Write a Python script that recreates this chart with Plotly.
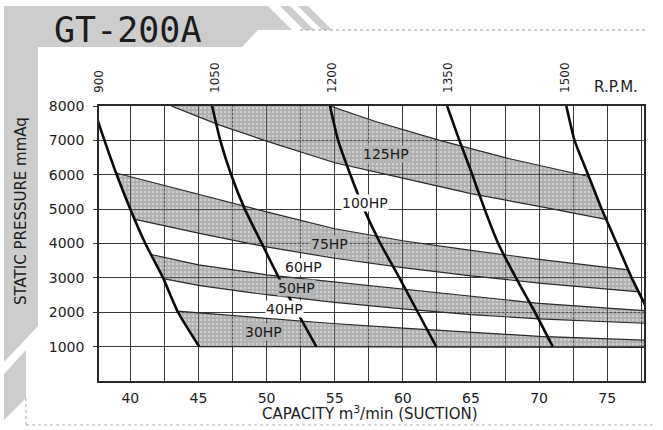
import plotly.graph_objects as go
import numpy as np

# ---------------- data ----------------
pressure_levels = [8000, 7000, 6000, 5000, 4000, 3000, 2000, 1000]

rpm_labels = ["900", "1050", "1200", "1350", "1500"]
rpm_tick_x = [37.7, 46.25, 54.8, 63.3, 71.9]

rpm_900_x = [37.55, 37.8, 39.0, 40.0, 41.1, 42.4, 43.5, 45.05]
rpm_900_y = [7650, 7350, 6000, 5000, 4000, 3000, 2000, 1000]
rpm_1050_x = [46.0, 46.6, 47.4, 48.4, 49.65, 50.9, 52.25, 53.65]
rpm_1050_y = pressure_levels
rpm_1200_x = [54.65, 55.25, 56.15, 57.15, 58.35, 59.75, 61.1, 62.45]
rpm_1200_y = pressure_levels
rpm_1350_x = [63.25, 64.15, 65.1, 66.0, 67.0, 68.3, 69.7, 71.0]
rpm_1350_y = pressure_levels
rpm_1500_x = [72.0, 72.6, 73.6, 74.6, 75.7, 76.8, 78.05]
rpm_1500_y = [8000, 7000, 6000, 5000, 4000, 3000, 2000]

# HP bands: upper and lower edges
band_a_up_x = [54.65, 58.0, 62.7, 68.0, 73.65]
band_a_up_y = [8000, 7550, 7000, 6450, 5950]
band_a_lo_x = [43.0, 46.5, 50.0, 55.0, 60.0, 65.0, 70.0, 74.9]
band_a_lo_y = [8000, 7450, 6980, 6350, 5900, 5450, 5080, 4700]

band_b_up_x = [38.95, 45.0, 50.0, 55.0, 60.0, 65.0, 70.0, 76.55]
band_b_up_y = [6050, 5420, 4920, 4430, 4080, 3800, 3540, 3230]
band_b_lo_x = [40.35, 45.0, 50.0, 55.0, 60.0, 65.0, 70.0, 77.35]
band_b_lo_y = [4700, 4300, 3900, 3570, 3300, 3060, 2850, 2590]

band_c_up_x = [41.52, 45.0, 50.0, 54.6, 60.0, 65.0, 70.0, 78.0]
band_c_up_y = [3680, 3380, 3090, 2900, 2660, 2450, 2260, 2040]
band_c_lo_x = [42.42, 45.0, 50.0, 55.0, 60.0, 65.0, 70.0, 78.0]
band_c_lo_y = [2980, 2780, 2510, 2290, 2100, 1930, 1810, 1675]

band_d_up_x = [43.45, 45.0, 50.0, 54.6, 60.0, 65.0, 70.0, 78.0]
band_d_up_y = [2030, 1980, 1820, 1680, 1540, 1410, 1300, 1185]
band_d_lo_x = [45.05, 78.0]
band_d_lo_y = [1000, 975]

hp_labels = ["125HP", "100HP", "75HP", "60HP", "50HP", "40HP", "30HP"]
hp_label_x = [58.8, 57.2, 54.65, 52.7, 52.2, 51.35, 49.75]
hp_label_y = [6600, 5170, 3985, 3325, 2720, 2100, 1435]
hp_label_on_band = [True, False, True, False, True, False, True]

x_ticks = [40, 45, 50, 55, 60, 65, 70, 75]
y_ticks = [1000, 2000, 3000, 4000, 5000, 6000, 7000, 8000]

# ---------------- helpers ----------------
X_RANGE = [37.7, 77.7]
Y_RANGE = [0, 8000]
ML, MR, MT, MB = 99, 19, 106, 49
W, H = 663, 430
PW, PH = W - ML - MR, H - MT - MB


def px(x):
    return (x - ML) / PW


def py(y):
    return (H - MB - y) / PH


def seg(cx, cy, y_hi, y_lo):
    """curve vertices strictly between y_hi and y_lo (descending)"""
    return [(a, b) for a, b in zip(cx, cy) if y_lo < b < y_hi]


def band_polygon(ux, uy, lx, ly, right=None):
    pts = list(zip(ux, uy))
    if right is not None:
        pts += seg(right[0], right[1], uy[-1], ly[-1])
    pts += list(zip(lx, ly))[::-1]
    pts += seg(rpm_900_x, rpm_900_y, uy[0], ly[0])[::-1]
    pts.append(pts[0])
    xs, ys = zip(*pts)
    return list(xs), list(ys)


GRID = "#3a3a3a"
FONT = "DejaVu Sans"
BAND_BG = "rgba(95,95,95,0.5)"
LABEL_BAND_BG = "#b4b4b4"

fig = go.Figure()

bands = [
    (band_a_up_x, band_a_up_y, band_a_lo_x, band_a_lo_y, (rpm_1500_x, rpm_1500_y)),
    (band_b_up_x, band_b_up_y, band_b_lo_x, band_b_lo_y, (rpm_1500_x, rpm_1500_y)),
    (band_c_up_x, band_c_up_y, band_c_lo_x, band_c_lo_y, None),
    (band_d_up_x, band_d_up_y, band_d_lo_x, band_d_lo_y, None),
]

for ux, uy, lx, ly, right in bands:
    bx, by = band_polygon(ux, uy, lx, ly, right)
    fig.add_trace(go.Scatter(
        x=bx, y=by, mode="lines", line=dict(width=0),
        fill="toself", fillcolor=BAND_BG,
        fillpattern=dict(shape=".", size=4, solidity=0.3,
                         fgcolor="rgba(255,255,255,0.4)",
                         bgcolor=BAND_BG, fillmode="replace"),
        hoverinfo="skip", showlegend=False))

for ux, uy, lx, ly, right in bands:
    for ex, ey in ((ux, uy), (lx, ly)):
        fig.add_trace(go.Scatter(
            x=ex, y=ey, mode="lines", line=dict(color="#2a2a2a", width=1.2),
            hoverinfo="skip", showlegend=False))

for cx, cy in ((rpm_900_x, rpm_900_y), (rpm_1050_x, rpm_1050_y),
               (rpm_1200_x, rpm_1200_y), (rpm_1350_x, rpm_1350_y),
               (rpm_1500_x, rpm_1500_y)):
    fig.add_trace(go.Scatter(
        x=cx, y=cy, mode="lines",
        line=dict(color="#0a0a0a", width=2.6, shape="spline", smoothing=0.5),
        hoverinfo="skip", showlegend=False))

# trace carrying the top (R.P.M.) axis
fig.add_trace(go.Scatter(x=rpm_tick_x, y=[8000] * len(rpm_tick_x), xaxis="x2",
                         mode="lines", line=dict(width=0), hoverinfo="skip",
                         showlegend=False))

for t, lx_, ly_, on_band in zip(hp_labels, hp_label_x, hp_label_y, hp_label_on_band):
    fig.add_annotation(x=lx_, y=ly_, text=t, showarrow=False,
                       xanchor="center", yanchor="middle",
                       font=dict(family=FONT, size=14, color="#1a1a1a"),
                       bgcolor=LABEL_BAND_BG if on_band else "#ffffff", borderpad=0)

# ---------------- decoration ----------------
def path(points):
    p = [f"{px(a):.4f},{py(b):.4f}" for a, b in points]
    return "M " + " L ".join(p) + " Z"


DECO = "#cdcdcd"
shapes = [
    dict(type="path", xref="paper", yref="paper", layer="below",
         path=path([(4, 6), (268, 6), (292, 30), (258, 30), (242, 47), (38, 47),
                    (38, 326), (4, 362)]),
         fillcolor=DECO, line=dict(width=0)),
    dict(type="path", xref="paper", yref="paper", layer="below",
         path=path([(4, 374), (26, 350), (26, 398), (4, 420)]),
         fillcolor=DECO, line=dict(width=0)),
    dict(type="path", xref="paper", yref="paper", layer="below",
         path=path([(280, 6), (290, 6), (314, 30), (304, 30)]),
         fillcolor=DECO, line=dict(width=0)),
    dict(type="path", xref="paper", yref="paper", layer="below",
         path=path([(298, 6), (308, 6), (332, 30), (322, 30)]),
         fillcolor=DECO, line=dict(width=0)),
    dict(type="line", xref="paper", yref="paper", layer="below",
         x0=px(300), y0=py(30), x1=px(648), y1=py(30),
         line=dict(color="#9a9a9a", width=1, dash="dot")),
    dict(type="line", xref="paper", yref="paper", layer="below",
         x0=px(26), y0=py(425), x1=px(655), y1=py(425),
         line=dict(color="#b0b0b0", width=1, dash="dot")),
    dict(type="line", xref="paper", yref="paper", layer="below",
         x0=px(26), y0=py(398), x1=px(26), y1=py(425),
         line=dict(color="#b0b0b0", width=1, dash="dot")),
]

annotations_extra = [
    dict(x=px(128), y=py(30), text="GT-200A",
         font=dict(family="DejaVu Sans Mono", size=35, color="#1c1c1c")),
    dict(x=px(616), y=py(87), text="R.P.M.",
         font=dict(family=FONT, size=15, color="#1c1c1c")),
    dict(x=px(21), y=py(211), text="STATIC PRESSURE mmAq", textangle=-90,
         font=dict(family=FONT, size=15, color="#1c1c1c")),
    dict(x=px(370), y=py(413), text="CAPACITY m<sup>3</sup>/min (SUCTION)",
         font=dict(family=FONT, size=15, color="#1c1c1c")),
]
for a in annotations_extra:
    fig.add_annotation(xref="paper", yref="paper", xanchor="center",
                       yanchor="middle", showarrow=False, **a)

fig.update_layout(
    width=W, height=H, autosize=False,
    margin=dict(l=ML, r=MR, t=MT, b=MB, pad=0),
    paper_bgcolor="white", plot_bgcolor="white",
    shapes=shapes,
    font=dict(family=FONT, color="#1c1c1c"),
    xaxis=dict(range=X_RANGE, tickmode="array", tickvals=x_ticks,
               showgrid=True, gridcolor=GRID, gridwidth=1.4,
               minor=dict(tickmode="linear", tick0=0, dtick=2.5, showgrid=True,
                          gridcolor=GRID, gridwidth=1.4, ticks=""),
               showline=True, mirror=True, linecolor="#2a2a2a", linewidth=1.6,
               ticks="", zeroline=False, tickfont=dict(size=14), ticklabelstandoff=3),
    yaxis=dict(range=Y_RANGE, tickmode="array", tickvals=y_ticks,
               showgrid=True, gridcolor=GRID, gridwidth=1.4,
               showline=True, mirror=True, linecolor="#2a2a2a", linewidth=1.6,
               ticks="outside", ticklen=4, tickcolor=GRID, tickwidth=1.4,
               zeroline=False, tickfont=dict(size=14), ticklabelstandoff=6),
    xaxis2=dict(overlaying="x", side="top", range=X_RANGE, tickmode="array",
                tickvals=rpm_tick_x, ticktext=rpm_labels, tickangle=-90,
                showgrid=False, showline=False, ticks="", zeroline=False,
                tickfont=dict(size=12), ticklabelstandoff=12),
)

fig.write_html("out.html", config={"displayModeBar": False},
               post_script="document.body.style.margin='0px';")
